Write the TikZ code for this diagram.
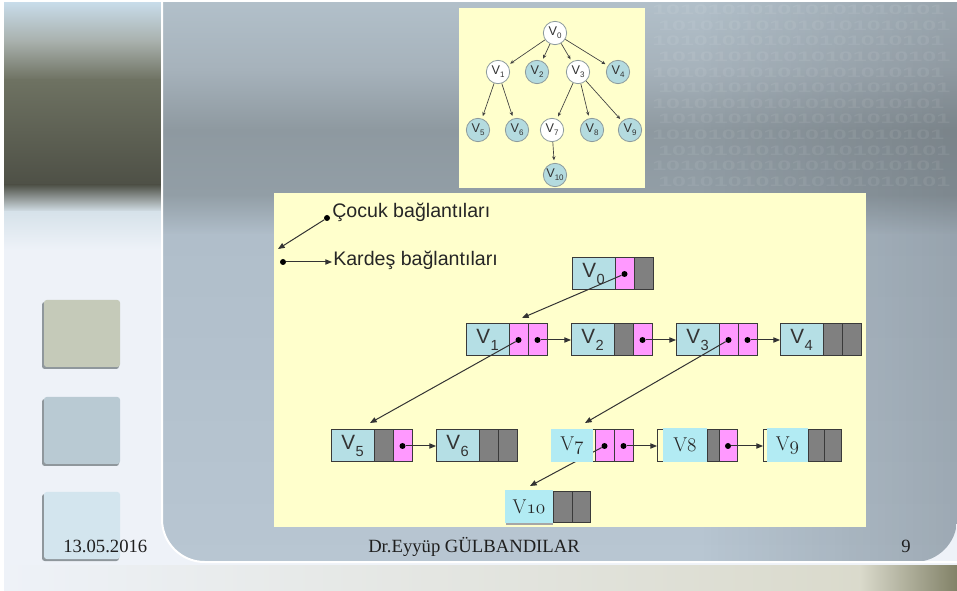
\documentclass[tikz,border=0pt]{standalone}
\usepackage{fontspec}
\usetikzlibrary{arrows.meta,fadings}
\newfontfamily\sansf{Liberation Sans}
\newfontfamily\serff{Liberation Serif}

% palette
\definecolor{bgpale}{HTML}{EEF2F8}
\definecolor{notepad}{HTML}{FFFFCC}
\definecolor{valfill}{HTML}{B5DFE5}
\definecolor{pinkc}{HTML}{FF99FF}
\definecolor{grayc}{HTML}{808080}
\definecolor{cyanc}{HTML}{B2EBF3}
\definecolor{boxline}{HTML}{3A3A3A}
\definecolor{linkc}{HTML}{333333}
\definecolor{leaffill}{HTML}{B4DBDF}
\definecolor{ringc}{HTML}{8C9A9C}
\definecolor{sqa}{HTML}{C5CAB9}
\definecolor{sqb}{HTML}{B9CAD3}
\definecolor{sqc}{HTML}{D3E5EE}
\definecolor{sqshadow}{HTML}{8F979C}

% labels: sans V with subscript, small tree label, serif V with old-style digits
\newcommand\vs[1]{V\kern0.3pt\raisebox{-0.6ex}{\fontsize{11}{11}\selectfont#1}}
\newcommand\tv[1]{V\raisebox{-0.45ex}{\fontsize{6}{6}\selectfont#1}}
\newcommand\ov[1]{V{\usefont{OML}{cmm}{m}{it}#1}}

\begin{document}
\begin{tikzpicture}[x=0.75pt,y=-0.75pt,
  val/.style={draw=boxline,line width=0.75pt,fill=valfill,minimum width=32.25pt,
    minimum height=24pt,inner sep=0pt,outer sep=0pt,
    font=\sansf\fontsize{15.5}{16}\selectfont,text=black!80},
  pcell/.style={draw=boxline,line width=0.75pt,fill=pinkc,minimum width=14.25pt,
    minimum height=24pt,inner sep=0pt,outer sep=0pt},
  gcell/.style={pcell,fill=grayc},
  frame/.style={draw=boxline,line width=0.75pt,minimum height=24pt,inner sep=0pt,outer sep=0pt},
  cbox/.style={fill=cyanc,minimum height=25pt,inner sep=0pt,outer sep=0pt,
    font=\fontsize{15}{16}\selectfont,text=black!85},
  ptr/.style={circle,fill=black,inner sep=0pt,minimum size=4.5pt},
  link/.style={draw=linkc,line width=0.75pt,-{Triangle[length=5pt,width=4pt]}},
  tnode/.style={circle,draw=ringc,line width=0.6pt,minimum size=17.5pt,inner sep=0pt,
    font=\sansf\fontsize{9.5}{10}\selectfont,text=black!80},
  bnode/.style={tnode,fill=white},
  lnode/.style={tnode,fill=leaffill},
  tarrow/.style={draw=black!75,line width=0.5pt,-{Stealth[length=3pt,width=2.6pt]},
    shorten >=2pt},
  legend/.style={font=\sansf\fontsize{14.7}{16}\selectfont,text=black!85,inner sep=0pt},
  foot/.style={font=\serff\fontsize{14}{15}\selectfont,text=black!88,inner sep=0pt},
  binary/.style={text=white,text opacity=0.07,inner sep=0pt,
    font=\sansf\bfseries\fontsize{18.75}{19}\selectfont}
]
\useasboundingbox (0,0) rectangle (957,591);

% ---------- slide background ----------
\fill[bgpale] (0,0) rectangle (957,591);
% left column with dark band
\shade[top color={rgb,255:red,200;green,220;blue,234}, bottom color={rgb,255:red,168;green,176;blue,172}] (4,2) rectangle (162,42);
\shade[top color={rgb,255:red,168;green,176;blue,172}, bottom color={rgb,255:red,110;green,114;blue,98}] (4,41.5) rectangle (162,80);
\shade[top color={rgb,255:red,110;green,114;blue,98}, bottom color={rgb,255:red,78;green,80;blue,70}] (4,79.5) rectangle (162,185);
\shade[top color={rgb,255:red,78;green,80;blue,70}, bottom color={rgb,255:red,214;green,226;blue,234}] (4,184.5) rectangle (162,212);
\shade[top color={rgb,255:red,214;green,226;blue,234}, bottom color=bgpale] (4,211.5) rectangle (162,250);

% main panel
\begin{scope}
  \clip (162,300) [rounded corners=32pt] -- (162,562) -- (957,562) [sharp corners] -- (957,2) -- (162,2) -- cycle;
  \shade[top color={rgb,255:red,178;green,192;blue,202}, bottom color={rgb,255:red,166;green,178;blue,187}] (160,0) rectangle (960,70);
  \shade[top color={rgb,255:red,166;green,178;blue,187}, bottom color={rgb,255:red,142;green,153;blue,160}] (160,69.5) rectangle (960,130);
  \shade[top color={rgb,255:red,142;green,153;blue,160}, bottom color={rgb,255:red,146;green,158;blue,166}] (160,129.5) rectangle (960,195);
  \shade[top color={rgb,255:red,146;green,158;blue,166}, bottom color={rgb,255:red,176;green,190;blue,202}] (160,194.5) rectangle (960,235);
  \shade[top color={rgb,255:red,176;green,190;blue,202}, bottom color={rgb,255:red,184;green,198;blue,210}] (160,234.5) rectangle (960,565);
  \fill[black,path fading=west,fill opacity=0.14] (700,0) rectangle (960,565);
\end{scope}
% faint binary pattern in the upper right
\foreach \r in {0,...,11}{
  \node[binary,anchor=west] (bin\r) at ({652+mod(\r,2)*6},{10+15.6*\r})
    {\scalebox{1}[0.55]{101010101010101010101}};
}
\draw[white,line width=1.5pt] (162,2) [rounded corners=32pt] -- (162,562) -- (957,562);

% bottom strip
\shade[left color=bgpale, right color={rgb,255:red,218;green,218;blue,204}] (0,565) rectangle (860,591);
\shade[left color={rgb,255:red,218;green,218;blue,204}, right color={rgb,255:red,130;green,130;blue,104}] (859.5,565) rectangle (957,591);
\fill[white] (0,0) rectangle (957,2);
\fill[white] (0,0) rectangle (4,591);

% left squares
\foreach \y/\c in {300/sqa,397/sqb,492/sqc}{
  \fill[sqshadow,rounded corners=2pt] (42,\y+2) rectangle (119,\y+69);
  \fill[\c,rounded corners=2pt] (44,\y) rectangle (120,\y+67);
}

% ---------- tree ----------
\fill[notepad] (459,8) rectangle (645,188);
\node[bnode] (t0) at (555,33) {\tv{0}};
\node[bnode] (t1) at (498,72) {\tv{1}};
\node[lnode] (t2) at (537,72) {\tv{2}};
\node[bnode] (t3) at (578,72) {\tv{3}};
\node[lnode] (t4) at (618,72) {\tv{4}};
\node[lnode] (t5) at (478,130) {\tv{5}};
\node[lnode] (t6) at (517,130) {\tv{6}};
\node[bnode] (t7) at (552,130) {\tv{7}};
\node[lnode] (t8) at (592,130) {\tv{8}};
\node[lnode] (t9) at (630,130) {\tv{9}};
\node[lnode] (t10) at (555,175) {\tv{10}};
\foreach \a/\b in {t0/t1,t0/t2,t0/t3,t0/t4,t1/t5,t1/t6,t3/t7,t3/t8,t3/t9,t7/t10}
  \draw[tarrow] (\a) -- (\b);

% ---------- linked representation ----------
\fill[notepad] (274,193) rectangle (866,527);

% legend
\node[ptr] (lg1) at (327,218) {};
\coordinate (lg1end) at (278,249);
\draw[link] (lg1) -- (lg1end);
\node[ptr] (lg2) at (283,262) {};
\coordinate (lg2end) at (332,262);
\draw[link] (lg2) -- (lg2end);
\node[legend,anchor=base west] (lgt1) at (332,218) {Çocuk bağlantıları};
\node[legend,anchor=base west] (lgt2) at (333,266) {Kardeş bağlantıları};

% row 1
\node[val,anchor=north west] (v0) at (572,258) {\vs{0}};
\node[pcell,anchor=west] (v0a) at (v0.east) {};
\node[gcell,anchor=west] (v0b) at (v0a.east) {};

% row 2
\node[val,anchor=north west] (v1) at (466,324) {\vs{1}};
\node[pcell,anchor=west] (v1a) at (v1.east) {};
\node[pcell,anchor=west] (v1b) at (v1a.east) {};
\node[val,anchor=north west] (v2) at (571,324) {\vs{2}};
\node[gcell,anchor=west] (v2a) at (v2.east) {};
\node[pcell,anchor=west] (v2b) at (v2a.east) {};
\node[val,anchor=north west] (v3) at (676,324) {\vs{3}};
\node[pcell,anchor=west] (v3a) at (v3.east) {};
\node[pcell,anchor=west] (v3b) at (v3a.east) {};
\node[val,anchor=north west] (v4) at (780,324) {\vs{4}};
\node[gcell,anchor=west] (v4a) at (v4.east) {};
\node[gcell,anchor=west] (v4b) at (v4a.east) {};

% row 3
\node[val,anchor=north west] (v5) at (331,430) {\vs{5}};
\node[gcell,anchor=west] (v5a) at (v5.east) {};
\node[pcell,anchor=west] (v5b) at (v5a.east) {};
\node[val,anchor=north west] (v6) at (436,430) {\vs{6}};
\node[gcell,anchor=west] (v6a) at (v6.east) {};
\node[gcell,anchor=west] (v6b) at (v6a.east) {};

\node[frame,anchor=north west,minimum width=10pt] (v7o) at (588,430) {};
\node[pcell,anchor=north west] (v7a) at (595,430) {};
\node[pcell,anchor=west] (v7b) at (v7a.east) {};

\node[frame,anchor=north west,minimum width=37.5pt] (v8o) at (657,430) {};
\node[gcell,anchor=north west,minimum width=9pt] (v8a) at (707,430) {};
\node[pcell,anchor=west,minimum width=13.5pt] (v8b) at (v8a.east) {};

\node[frame,anchor=north west,minimum width=34.5pt] (v9o) at (763,430) {};
\node[gcell,anchor=north west,minimum width=12.5pt] (v9a) at (808,430) {};
\node[gcell,anchor=west,minimum width=12.5pt] (v9b) at (v9a.east) {};

\node[gcell,anchor=north west,minimum height=22.5pt] (v10a) at (553,492) {};
\node[gcell,anchor=west,minimum height=22.5pt,minimum width=13.5pt] (v10b) at (v10a.east) {};

% pointer dots
\node[ptr] (p0) at (v0a) {};
\node[ptr] (p1a) at (v1a) {};
\node[ptr] (p1b) at (v1b) {};
\node[ptr] (p2) at (v2b) {};
\node[ptr] (p3a) at (v3a) {};
\node[ptr] (p3b) at (v3b) {};
\node[ptr] (p5) at (v5b) {};
\node[ptr] (p7a) at (v7a) {};
\node[ptr] (p7b) at (v7b) {};
\node[ptr] (p8) at (v8b) {};

% child and sibling links
\coordinate (in1) at (522,318);
\coordinate (in5) at (370,423);
\coordinate (in7) at (585,423);
\coordinate (in10) at (530,486);
\draw[link] (p0) -- (in1);
\draw[link] (p1a) -- (in5);
\draw[link] (p1b) -- (v2.west);
\draw[link] (p2) -- (v3.west);
\draw[link] (p3a) -- (in7);
\draw[link] (p3b) -- (v4.west);
\draw[link] (p5) -- (v6.west);
\draw[link] (p7a) -- (in10);
\draw[link] (p7b) -- (v8o.west);
\draw[link] (p8) -- (v9o.west);

% value boxes laid over the links
\node[cbox,anchor=north west,minimum width=31.5pt] (v7) at (551,429) {\ov{7}};
\node[cbox,anchor=north west,minimum width=33pt] (v8) at (663,428.5) {\ov{8}};
\node[cbox,anchor=north west,minimum width=30.75pt] (v9) at (767,428.5) {\ov{9}};
\fill[black!35] (506,523) rectangle (553,524.5);
\node[cbox,anchor=north west,minimum width=36pt,minimum height=24.75pt] (v10) at (505,490) {\ov{10}};

% ---------- footer ----------
\node[foot,anchor=base west] (date) at (63,552) {13.05.2016};
\node[foot,anchor=base west] (author) at (368,552) {Dr.Eyyüp GÜLBANDILAR};
\node[foot,anchor=base west] (page) at (901,552) {9};
\end{tikzpicture}
\end{document}
